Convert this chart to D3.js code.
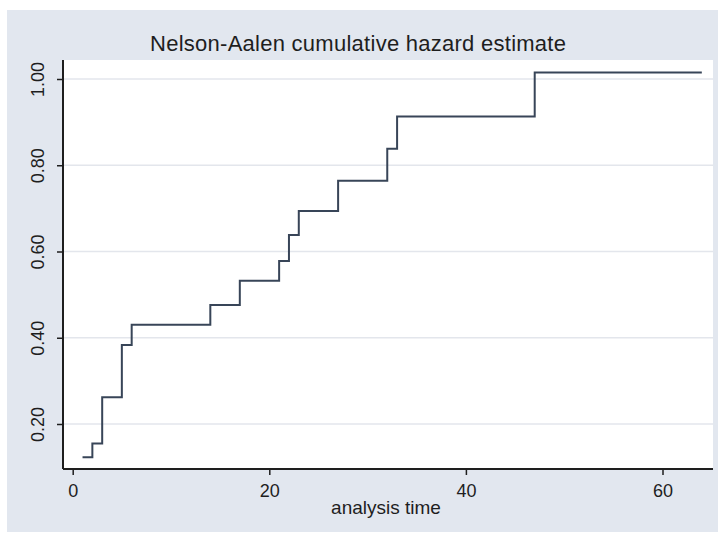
<!DOCTYPE html>
<html>
  <head>
    <meta charset="utf-8">
    <title>Nelson-Aalen cumulative hazard estimate</title>
    <script src="https://d3js.org/d3.v7.min.js" charset="utf-8"></script>
    <style>
      body { margin: 0; background: #fff; }
      text { font-family: "Liberation Sans", Arial, sans-serif; fill: #1e1e1e; }
    </style>
  </head>
<body>
  <div id="chart"></div>
  <script type="text/javascript">
// failure times and cumulative hazard
var times = [1, 2, 3, 5, 6, 14, 17, 21, 22, 23, 27, 32, 33, 47];
var hazard = [0.123, 0.155, 0.262, 0.383, 0.430, 0.476, 0.532, 0.578, 0.638, 0.694, 0.764, 0.838, 0.913, 1.015];
var lastTime = 64;
var xTicks = [0, 20, 40, 60];
var yTicks = [0.20, 0.40, 0.60, 0.80, 1.00];

var width = 718,
    height = 533,
    plot = {left: 63, right: 713, top: 60, bottom: 469};

var svg = d3.select("#chart").append("svg")
    .attr("width", width)
    .attr("height", height);

// graph region
svg.append("rect")
    .attr("x", 7).attr("y", 10)
    .attr("width", width - 7).attr("height", 522)
    .attr("fill", "#e2e7ef");

svg.append("rect")
    .attr("x", plot.left).attr("y", plot.top)
    .attr("width", plot.right - plot.left)
    .attr("height", plot.bottom - plot.top)
    .attr("fill", "#fff");

var x = d3.scaleLinear().domain([0, 60]).range([72.7, 662.5]);
var y = d3.scaleLinear().domain([0.2, 1.0]).range([424, 79]);

// grid
svg.append("g").selectAll("line")
    .data(yTicks)
    .enter().append("line")
    .attr("x1", plot.left).attr("x2", plot.right)
    .attr("y1", d => y(d)).attr("y2", d => y(d))
    .attr("stroke", "#e3e6ec")
    .attr("stroke-width", 1.5);

// step function
var pts = times.map((t, i) => [t, hazard[i]]);
pts.push([lastTime, hazard[hazard.length - 1]]);

var line = d3.line()
    .x(d => x(d[0]))
    .y(d => y(d[1]))
    .curve(d3.curveStepAfter);

svg.append("path")
    .datum(pts)
    .attr("d", line)
    .attr("fill", "none")
    .attr("stroke", "#384558")
    .attr("stroke-width", 2);

// axes
var xAxis = svg.append("g")
    .attr("transform", "translate(0," + plot.bottom + ")")
    .call(d3.axisBottom(x).tickValues(xTicks).tickSize(6).tickPadding(9)
          .tickFormat(d3.format("d")));
xAxis.select(".domain").remove();
xAxis.append("line")
    .attr("x1", plot.left).attr("x2", plot.right)
    .attr("stroke", "#1e1e1e").attr("stroke-width", 2);
xAxis.selectAll(".tick line").attr("stroke", "#1e1e1e").attr("stroke-width", 1.5);
xAxis.selectAll(".tick text")
    .style("font-size", "18px")
    .style("font-family", "Liberation Sans, Arial, sans-serif")
    .attr("fill", "#1e1e1e");

var yAxis = svg.append("g")
    .attr("transform", "translate(" + plot.left + ",0)")
    .call(d3.axisLeft(y).tickValues(yTicks).tickSize(6).tickFormat(d3.format(".2f")));
yAxis.select(".domain").remove();
yAxis.append("line")
    .attr("y1", plot.top).attr("y2", plot.bottom)
    .attr("stroke", "#1e1e1e").attr("stroke-width", 2);
yAxis.selectAll(".tick line").attr("stroke", "#1e1e1e").attr("stroke-width", 1.5);
yAxis.selectAll(".tick text")
    .attr("x", null).attr("dy", null)
    .attr("text-anchor", "middle")
    .attr("transform", "translate(-19,0) rotate(-90)")
    .style("font-size", "18px")
    .style("font-family", "Liberation Sans, Arial, sans-serif")
    .attr("fill", "#1e1e1e");

// titles
svg.append("text")
    .attr("x", 358).attr("y", 51)
    .attr("text-anchor", "middle")
    .attr("textLength", 416)
    .attr("lengthAdjust", "spacing")
    .style("font-size", "22px")
    .attr("fill", "#2a2a2a")
    .text("Nelson-Aalen cumulative hazard estimate");

svg.append("text")
    .attr("x", 386).attr("y", 514)
    .attr("text-anchor", "middle")
    .style("font-size", "19px")
    .text("analysis time");
</script>
</body>
</html>
